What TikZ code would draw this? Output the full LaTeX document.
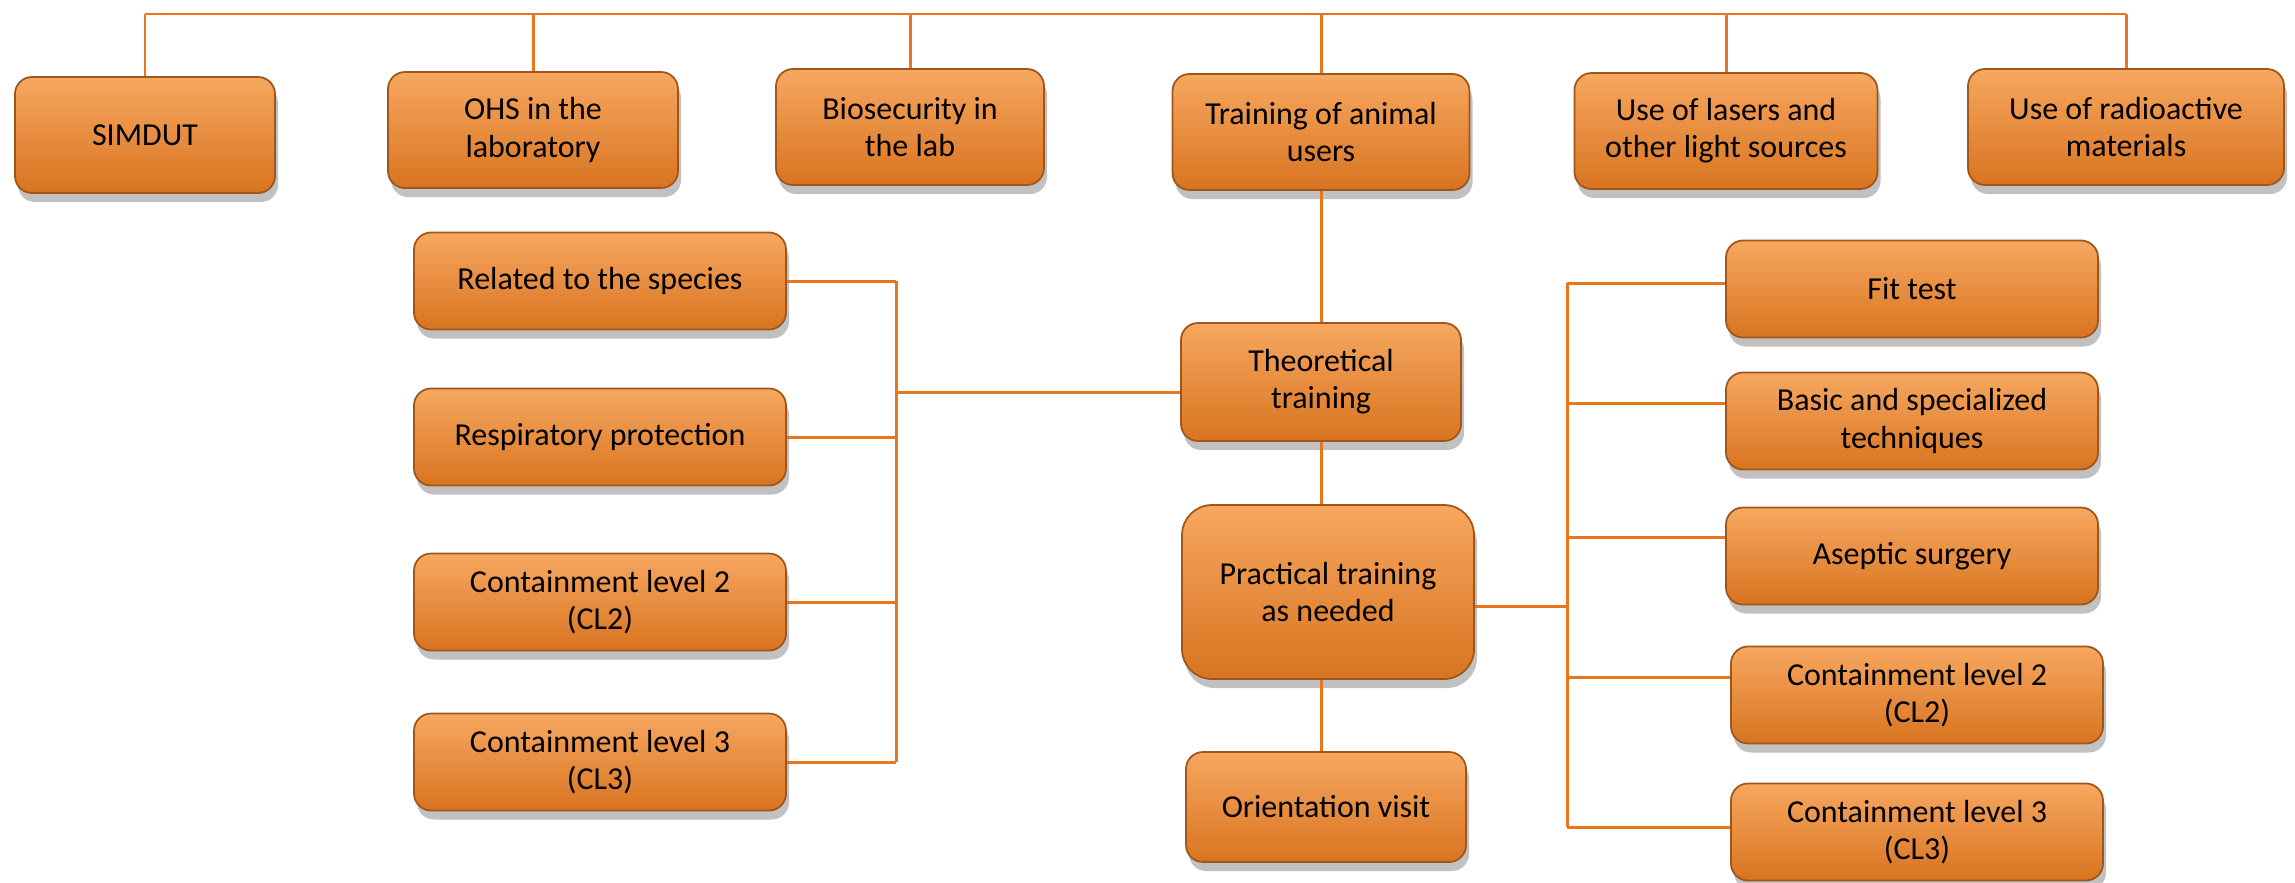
\documentclass[tikz,border=0pt]{standalone}
\usepackage{fontspec}
\setmainfont{Carlito}
\usepackage{xcolor}
\usetikzlibrary{calc, shadows}

\definecolor{boxtop}{RGB}{247,167,96}
\definecolor{boxbot}{RGB}{216,116,32}
\definecolor{boxrim}{RGB}{158,86,26}
\definecolor{wirecol}{RGB}{232,118,30}

\tikzset{
	card/.style={rounded corners=1.7mm, draw=boxrim, line width=0.5pt,
		top color=boxtop, bottom color=boxbot,
		drop shadow={shadow xshift=0.3mm, shadow yshift=-0.9mm, opacity=0.35, fill=black!70},
		align=center, inner sep=0pt, text=black,
		font=\fontsize{9.1}{10.6}\selectfont},
	link/.style={draw=wirecol, line width=0.85pt},
}

\begin{document}
\begin{tikzpicture}
			\def\th{1.16};
			\def\sw{3.72};
			\def\sh{0.97};
			
			\useasboundingbox (0,0) rectangle (22.95,8.82);
			
			\coordinate (top) at (0,8.68);
			\coordinate (busL) at (8.96,0);
			\coordinate (busR) at (15.67,0);
			
			\node[card, minimum width=2.60cm, minimum height=\th cm] (simdut) at (1.45,7.47) {SIMDUT};
			\node[card, minimum width=2.90cm, minimum height=\th cm] (ohs) at (5.33,7.52) {OHS in the\\laboratory};
			\node[card, minimum width=2.68cm, minimum height=\th cm] (bio) at (9.10,7.55) {Biosecurity in\\the lab};
			\node[card, minimum width=2.97cm, minimum height=\th cm] (users) at (13.21,7.50) {Training of animal\\users};
			\node[card, minimum width=3.03cm, minimum height=\th cm] (lasers) at (17.26,7.51) {Use of lasers and\\other light sources};
			\node[card, minimum width=3.16cm, minimum height=\th cm] (radio) at (21.26,7.55) {Use of radioactive\\materials};
			
			\node[card, minimum width=2.80cm, minimum height=1.18cm] (theo) at (13.21,5.00) {Theoretical\\training};
			\node[card, minimum width=2.92cm, minimum height=1.74cm, rounded corners=3mm] (prac) at (13.28,2.90) {Practical training\\as needed};
			\node[card, minimum width=2.80cm, minimum height=1.10cm] (orient) at (13.26,0.75) {Orientation visit};
			
			\node[card, minimum width=\sw cm, minimum height=\sh cm] (species) at (6.00,6.01) {Related to the species};
			\node[card, minimum width=\sw cm, minimum height=\sh cm] (resp) at (6.00,4.45) {Respiratory protection};
			\node[card, minimum width=\sw cm, minimum height=\sh cm] (cltwoL) at (6.00,2.80) {Containment level 2\\(CL2)};
			\node[card, minimum width=\sw cm, minimum height=\sh cm] (clthreeL) at (6.00,1.20) {Containment level 3\\(CL3)};
			
			\node[card, minimum width=\sw cm, minimum height=\sh cm] (fit) at (19.12,5.93) {Fit test};
			\node[card, minimum width=\sw cm, minimum height=\sh cm] (basic) at (19.12,4.61) {Basic and specialized\\techniques};
			\node[card, minimum width=\sw cm, minimum height=\sh cm] (asep) at (19.12,3.26) {Aseptic surgery};
			\node[card, minimum width=\sw cm, minimum height=\sh cm] (cltwoR) at (19.17,1.87) {Containment level 2\\(CL2)};
			\node[card, minimum width=\sw cm, minimum height=\sh cm] (clthreeR) at (19.17,0.50) {Containment level 3\\(CL3)};
			
			\begin{scope}[link]
				\draw (simdut.north |- top) -- (radio.north |- top);
				\foreach \n in {simdut, ohs, bio, users, lasers, radio}
					\draw (\n.north |- top) -- (\n.north);
				
				\draw (users.south) -- (theo.north);
				\draw (theo.south) -- (theo.south |- prac.north);
				\draw (orient.north -| theo.south) -- (theo.south |- prac.south);
				
				\foreach \n in {species, resp, cltwoL, clthreeL}
					\draw (\n.east) -- (\n.east -| busL);
				\draw (species.east -| busL) -- (clthreeL.east -| busL);
				\draw ([yshift=-1mm]theo.west) -- ([yshift=-1mm]theo.west -| busL);
				
				\foreach \n/\s in {fit/0.6, basic/1.8, asep/1.9, cltwoR/1.8, clthreeR/0.5}
					\draw ([yshift=\s mm]\n.west) -- ([yshift=\s mm]\n.west -| busR);
				\draw ([yshift=0.6mm]fit.west -| busR) -- ([yshift=0.5mm]clthreeR.west -| busR);
				\draw ([yshift=-1.4mm]prac.east) -- ([yshift=-1.4mm]prac.east -| busR);
			\end{scope}
		\end{tikzpicture}
\end{document}
